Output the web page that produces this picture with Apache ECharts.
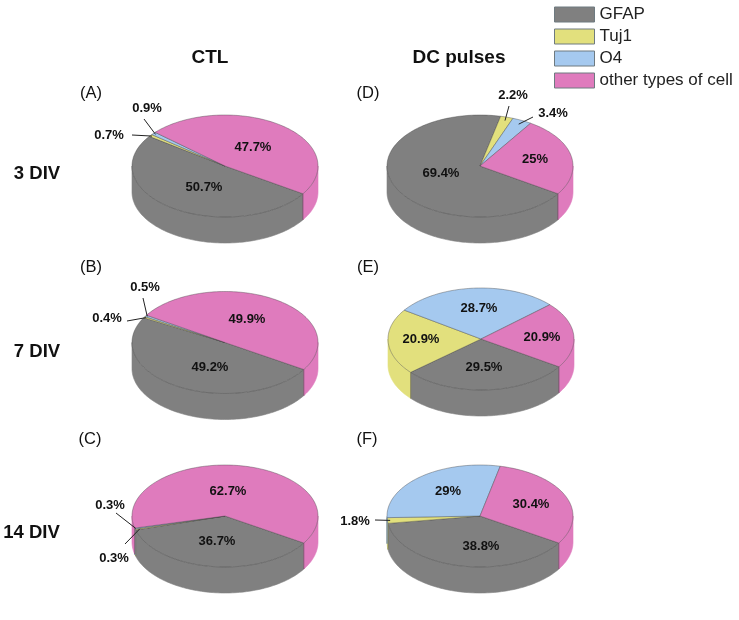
<!DOCTYPE html>
<html>
<head>
<meta charset="utf-8">
<style>html,body{margin:0;padding:0;background:#fff}#c{width:739px;height:620px}</style>
<script src="https://cdn.jsdelivr.net/npm/echarts@6/dist/echarts.min.js"></script>
</head>
<body>
<div id="c"></div>
<script>
// ---- data: panels in order A, B, C, D, E, F ----
const categories = ['GFAP', 'Tuj1', 'O4', 'other types of cell'];
const panelLetters = ['(A)', '(B)', '(C)', '(D)', '(E)', '(F)'];
const columnTitles = ['CTL', 'DC pulses'];
const rowTitles = ['3 DIV', '7 DIV', '14 DIV'];
const gfap  = [50.7, 49.2, 36.7, 69.4, 29.5, 38.8];
const tuj1  = [0.7, 0.4, 0.3, 2.2, 20.9, 1.8];
const o4    = [0.9, 0.5, 0.3, 3.4, 28.7, 29];
const other = [47.7, 49.9, 62.7, 25, 20.9, 30.4];
const seriesValues = [gfap, tuj1, o4, other];

// ---- layout and style ----
const colors = ['#808080', '#E2E07D', '#A5C9EF', '#DF7BBD'];
const pieCenters = [[225,166],[225,342.5],[225,516],[480,166],[481,339],[480,516]];
const pieStart = [33, 32, 32, 33, 33, 32];
const RX = 93, RY = 51, DEPTH = 26;
const labelPos = [
  [[204,187],[109,135],[147,108],[253,147]],
  [[210,367],[107,318],[145,287],[247,319]],
  [[217,541],[114,558],[110,505],[228,491]],
  [[441,173],[513,95],[553,113],[535,159]],
  [[484,367],[421,339],[479,308],[542,337]],
  [[481,546],[355,521],[448,491],[531,504]]
];
// leader start x, start y, fraction of the radius at which the leader meets its slice
const leaders = [
  [null,[132,135,0.98],[144,119,0.97],null],
  [null,[127,321,0.98],[143,298,0.98],null],
  [null,[125,544,0.95],[116,513,0.99],null],
  [null,[509,106,0.93],[533,117,0.92],null],
  [null,null,null,null],
  [null,[375,520,0.97],null,null]
];
const letterPos = [[91,93],[91,267],[90,439],[368,93],[368,267],[367,439]];
const columnPos = [[210,58],[459,58]];
const rowPos = [[37,174],[37,352],[31.5,533]];
const EDGE = 'rgba(60,60,60,0.55)';

function startOf(cat, panel) {
  let deg = pieStart[panel];
  for (let i = 0; i < cat; i++) deg += seriesValues[i][panel] * 3.6;
  return deg;
}
function rim(panel, deg, f, dy) {
  const a = deg * Math.PI / 180, c = pieCenters[panel];
  return [c[0] + f * RX * Math.cos(a), c[1] + f * RY * Math.sin(a) + (dy || 0)];
}
function arc(panel, from, to, dy) {
  const pts = [], n = Math.max(2, Math.ceil(Math.abs(to - from) / 1.5));
  for (let i = 0; i <= n; i++) pts.push(rim(panel, from + (to - from) * i / n, 1, dy));
  return pts;
}

function sliceRenderer(cat) {
  return function (params, api) {
    const panel = api.value(0), value = api.value(1);
    const from = startOf(cat, panel), to = from + value * 3.6;
    const kids = [];
    // front wall: visible where the rim runs along the front half (0..180 deg, also 360..540)
    [[0,180],[360,540]].forEach(function (w) {
      const a = Math.max(from, w[0]), b = Math.min(to, w[1]);
      if (b <= a) return;
      const top = arc(panel, a, b, 0), bot = arc(panel, b, a, DEPTH);
      kids.push({type:'polygon', shape:{points: top.concat(bot)},
        style:{fill: colors[cat], stroke: colors[cat], lineWidth: 0.6}});
      [a, b].forEach(function (d) {
        if (d === w[0] || d === w[1]) return;
        const p = rim(panel, d, 1, 0);
        kids.push({type:'line', shape:{x1:p[0], y1:p[1], x2:p[0], y2:p[1]+DEPTH},
          style:{stroke: EDGE, lineWidth: 0.8}});
      });
    });
    // top sector
    kids.push({type:'polygon', z2: 5,
      shape:{points: [pieCenters[panel]].concat(arc(panel, from, to, 0))},
      style:{fill: colors[cat], stroke: EDGE, lineWidth: 0.7, lineJoin:'round'}});
    return {type:'group', children: kids};
  };
}

const sliceSeries = categories.map(function (name, cat) {
  return {
    type:'custom', name: name, coordinateSystem:'none', silent:true, z: 2 + cat,
    itemStyle:{color: colors[cat]},
    data: seriesValues[cat].map(function (v, p) { return [p, v]; }),
    renderItem: sliceRenderer(cat)
  };
});

const labelRows = [];
seriesValues.forEach(function (vals, cat) {
  vals.forEach(function (v, p) { labelRows.push([p, cat, v]); });
});
const labelSeries = {
  type:'custom', name:'labels', coordinateSystem:'none', silent:true, z: 10,
  data: labelRows,
  renderItem: function (params, api) {
    const p = api.value(0), cat = api.value(1), v = api.value(2);
    const pos = labelPos[p][cat], kids = [];
    const lead = leaders[p][cat];
    if (lead) {
      const mid = startOf(cat, p) + v * 1.8, e = rim(p, mid, lead[2], 0);
      kids.push({type:'line', shape:{x1:lead[0], y1:lead[1], x2:e[0], y2:e[1]},
        style:{stroke:'#222', lineWidth:1}});
    }
    kids.push({type:'text', z2: 10, style:{
      x: pos[0], y: pos[1], text: v + '%', align:'center', verticalAlign:'middle',
      fill:'#111', font:'bold 13px "Liberation Sans", Arial, sans-serif'}});
    return {type:'group', children: kids};
  }
};

function txt(s, p, font) {
  return {type:'text', silent:true, style:{x:p[0], y:p[1], text:s, align:'center', verticalAlign:'middle', fill:'#111', font:font}};
}
const FONT_TITLE = 'bold 19px "Liberation Sans", Arial, sans-serif';
const FONT_ROW = 'bold 18.5px "Liberation Sans", Arial, sans-serif';
const FONT_LETTER = '16.5px "Liberation Sans", Arial, sans-serif';
const graphics = []
  .concat(columnTitles.map(function (s, i) { return txt(s, columnPos[i], FONT_TITLE); }))
  .concat(rowTitles.map(function (s, i) { return txt(s, rowPos[i], FONT_ROW); }))
  .concat(panelLetters.map(function (s, i) { return txt(s, letterPos[i], FONT_LETTER); }));

const chart = echarts.init(document.getElementById('c'));
chart.setOption({
  animation:false,
  backgroundColor:'#fff',
  legend:{
    data: categories, orient:'vertical', left:554, top:6, padding:0,
    itemWidth:40, itemHeight:15, itemGap:5, icon:'rect', selectedMode:false,
    itemStyle:{borderColor:'#6e7a80', borderWidth:1},
    textStyle:{fontFamily:'"Liberation Sans", Arial, sans-serif', fontSize:17, color:'#222', padding:[0,0,0,0]},
    formatter:function (n) { return n; }
  },
  graphic: graphics,
  series: sliceSeries.concat([labelSeries])
});
</script>
</body>
</html>
